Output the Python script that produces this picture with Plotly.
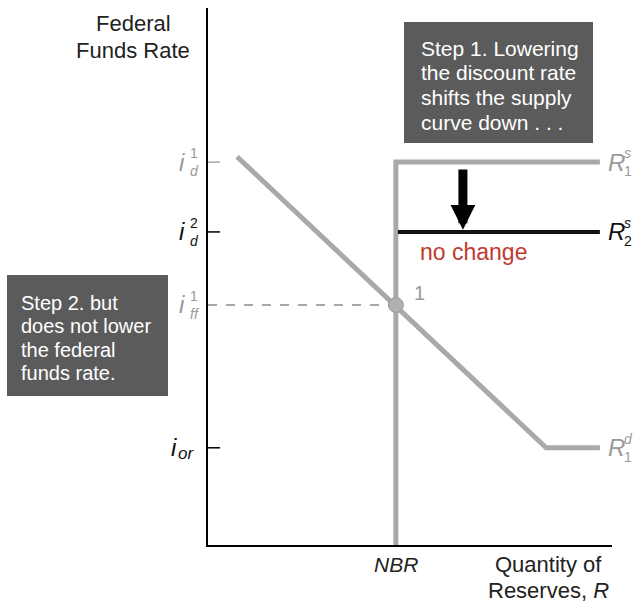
import plotly.graph_objects as go

# ---- data (conceptual units: quantity of reserves 0-100, rate 0-100) ----
nbr = 46.5            # non-borrowed reserves
x_end = 97.0          # right end of the curves
i_d1 = 71.3           # initial discount rate
i_d2 = 58.3           # lowered discount rate
i_ff1 = 44.7          # federal funds rate (equilibrium 1)
i_or = 18.1           # interest rate paid on reserves

demand_x = [7.2, 83.7, 97.0]
demand_y = [72.3, i_or, i_or]
supply1_x = [nbr, nbr, x_end]
supply1_y = [0.0, i_d1, i_d1]
supply2_x = [47.0, x_end]
supply2_y = [i_d2, i_d2]
arrow_x = 63.1
arrow_top = 70.2
arrow_tip = 58.7

box1_lines = ["Step 1. Lowering", "the discount rate", "shifts the supply", "curve down . . ."]
box2_lines = ["Step 2. but", "does not lower", "the federal", "funds rate."]

# ---- layout geometry (pixels) ----
W, H = 635, 603
PL, PT, PR, PB = 208, 8, 612, 545          # plot area in page pixels
L, T = PL, PT
R, B = W - PR, H - PB
PW, PH = PR - PL, PB - PT


def px(xp):
    return (xp - PL) / PW


def py(yp):
    return (PB - yp) / PH


GRAY = "#a9a9a9"
GRAY_TXT = "#9a9a9a"
BOX = "#5b5b5b"
FONT = "Liberation Sans, Arial, Helvetica, sans-serif"

fig = go.Figure()

# dashed guide to point 1
fig.add_trace(go.Scatter(x=[0, nbr], y=[i_ff1, i_ff1], mode="lines",
                         line=dict(color="#8a8a8a", width=1.5, dash="dash"),
                         hoverinfo="skip", showlegend=False))
# demand curve
fig.add_trace(go.Scatter(x=demand_x, y=demand_y, mode="lines",
                         line=dict(color=GRAY, width=5), showlegend=False))
# initial supply curve
fig.add_trace(go.Scatter(x=supply1_x, y=supply1_y, mode="lines",
                         line=dict(color=GRAY, width=5), showlegend=False))
# new supply curve
fig.add_trace(go.Scatter(x=supply2_x, y=supply2_y, mode="lines",
                         line=dict(color="#111111", width=4), showlegend=False))
# equilibrium point
fig.add_trace(go.Scatter(x=[nbr], y=[i_ff1], mode="markers",
                         marker=dict(color="#b0b0b0", size=15,
                                     line=dict(color="#9a9a9a", width=1)),
                         showlegend=False))

ann = []

# arrow
ann.append(dict(x=arrow_x, y=arrow_tip, ax=arrow_x, ay=arrow_top,
                xref="x", yref="y", axref="x", ayref="y", text="",
                showarrow=True, arrowhead=2, arrowsize=0.55, arrowwidth=9,
                arrowcolor="#000000"))

# tick marks
shapes = []
for yv, col in [(i_d1, GRAY), (i_d2, "#000000"), (i_or, "#000000")]:
    shapes.append(dict(type="line", xref="x", yref="y", x0=0, x1=3.0, y0=yv, y1=yv,
                       line=dict(color=col, width=1.5)))

# grey boxes
shapes.append(dict(type="rect", xref="paper", yref="paper", layer="below",
                   x0=px(404), x1=px(593), y0=py(143), y1=py(22),
                   fillcolor=BOX, line=dict(width=0)))
shapes.append(dict(type="rect", xref="paper", yref="paper", layer="below",
                   x0=px(7), x1=px(168), y0=py(396), y1=py(275),
                   fillcolor=BOX, line=dict(width=0)))

for k, t in enumerate(box1_lines):
    ann.append(dict(x=px(419), y=py(48 + 24.7 * k), xref="paper", yref="paper",
                    text=t, showarrow=False, xanchor="left", yanchor="middle",
                    font=dict(family=FONT, size=21, color="#ffffff")))
for k, t in enumerate(box2_lines):
    ann.append(dict(x=px(19), y=py(303 + 23.3 * k), xref="paper", yref="paper",
                    text=t, showarrow=False, xanchor="left", yanchor="middle",
                    font=dict(family=FONT, size=20, color="#ffffff")))

# axis titles
for t, yy in [("Federal", 23), ("Funds Rate", 50)]:
    ann.append(dict(x=px(133), y=py(yy), xref="paper", yref="paper", text=t,
                    showarrow=False, xanchor="center", yanchor="middle",
                    font=dict(family=FONT, size=22, color="#222222")))
for t, yy in [("Quantity of", 564), ("Reserves, <i>R</i>", 590)]:
    ann.append(dict(x=px(548), y=py(yy), xref="paper", yref="paper", text=t,
                    showarrow=False, xanchor="center", yanchor="middle",
                    font=dict(family=FONT, size=22, color="#222222")))
ann.append(dict(x=nbr, y=py(564), xref="x", yref="paper", text="<i>NBR</i>",
                showarrow=False, xanchor="center", yanchor="middle",
                font=dict(family=FONT, size=21, color="#222222")))

# y-axis labels (i with stacked scripts)
for yv, scr, col in [(i_d1, "1<br><i>d</i>", GRAY_TXT), (i_d2, "2<br><i>d</i>", "#111111"),
                     (i_ff1, "1<br><i>ff</i>", GRAY_TXT)]:
    ann.append(dict(x=0, y=yv, xref="x", yref="y", text="<i>i</i>", showarrow=False,
                    xanchor="right", yanchor="middle", xshift=-21,
                    font=dict(family=FONT, size=24, color=col)))
    ann.append(dict(x=0, y=yv, xref="x", yref="y", text=scr, showarrow=False,
                    xanchor="left", yanchor="middle", xshift=-20, align="left",
                    font=dict(family=FONT, size=14, color=col)))
ann.append(dict(x=0, y=i_or, xref="x", yref="y", text="<i>i</i>", showarrow=False,
                xanchor="right", yanchor="middle", xshift=-29,
                font=dict(family=FONT, size=24, color="#111111")))
ann.append(dict(x=0, y=i_or, xref="x", yref="y", text="<i>or</i>", showarrow=False,
                xanchor="left", yanchor="middle", xshift=-32, yshift=-6,
                font=dict(family=FONT, size=17, color="#111111")))

# right-hand curve labels
for yv, scr, col in [(i_d1, "<i>s</i><br>1", GRAY_TXT), (i_d2, "<i>s</i><br>2", "#111111"),
                     (i_or, "<i>d</i><br>1", GRAY_TXT)]:
    ann.append(dict(x=x_end, y=yv, xref="x", yref="y", text="<i>R</i>", showarrow=False,
                    xanchor="left", yanchor="middle", xshift=6,
                    font=dict(family=FONT, size=24, color=col)))
    ann.append(dict(x=x_end, y=yv, xref="x", yref="y", text=scr, showarrow=False,
                    xanchor="left", yanchor="middle", xshift=22, align="left",
                    font=dict(family=FONT, size=14, color=col)))

# point label and "no change"
ann.append(dict(x=nbr, y=i_ff1, xref="x", yref="y", text="1", showarrow=False,
                xanchor="left", yanchor="middle", xshift=16, yshift=12,
                font=dict(family=FONT, size=20, color=GRAY_TXT)))
ann.append(dict(x=arrow_x, y=i_d2, xref="x", yref="y", text="no change", showarrow=False,
                xanchor="center", yanchor="middle", xshift=11, yshift=-20,
                font=dict(family=FONT, size=23, color="#bf3a30")))

fig.update_layout(
    width=W, height=H,
    margin=dict(l=L, r=R, t=T, b=B, pad=0),
    paper_bgcolor="#ffffff", plot_bgcolor="#ffffff",
    showlegend=False,
    xaxis=dict(range=[0, 100], showgrid=False, zeroline=False, showticklabels=False,
               ticks="", showline=True, linecolor="#000000", linewidth=2, fixedrange=True),
    yaxis=dict(range=[0, 100], showgrid=False, zeroline=False, showticklabels=False,
               ticks="", showline=True, linecolor="#000000", linewidth=2, fixedrange=True),
    annotations=ann,
    shapes=shapes,
)

fig.write_html("out.html",
               config={"displayModeBar": False},
               post_script="document.body.style.margin='0';"
                           "document.body.style.overflow='hidden';")
